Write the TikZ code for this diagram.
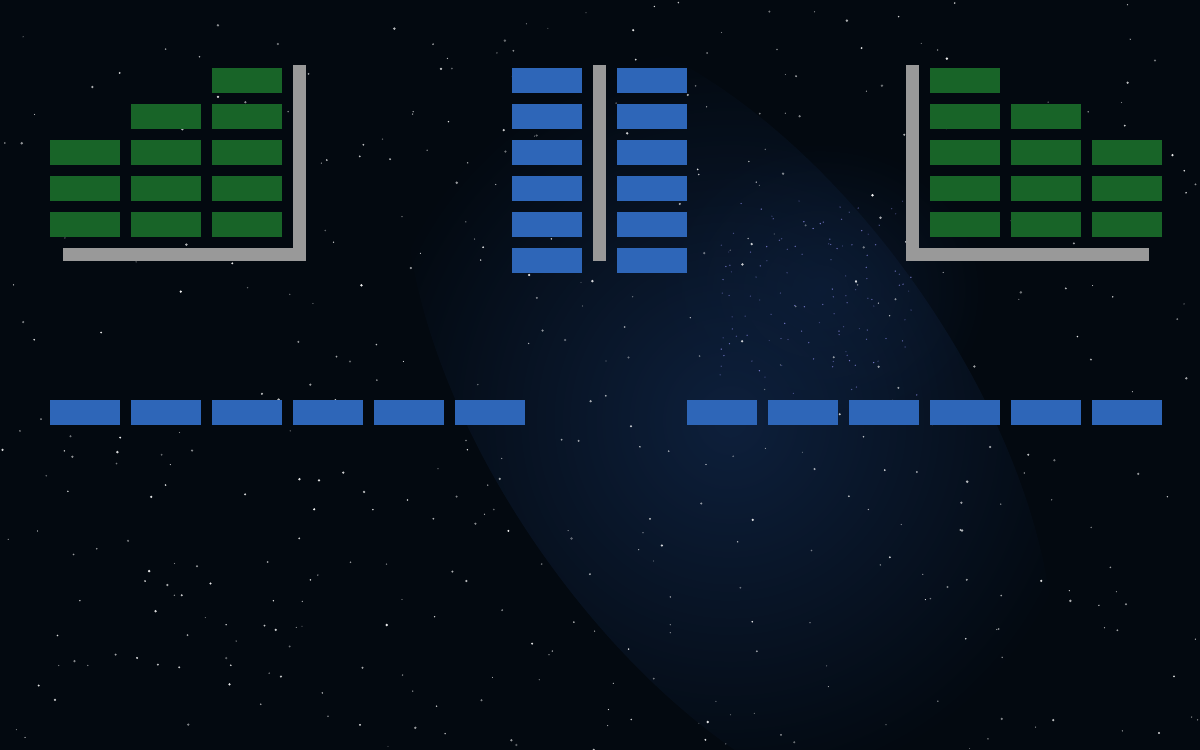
\documentclass[tikz,border=0pt]{standalone}
\usetikzlibrary{fadings}
\definecolor{bgdark}{RGB}{3,9,16}
\definecolor{glow}{RGB}{14,32,60}
\definecolor{boxgreen}{RGB}{24,100,40}
\definecolor{boxblue}{RGB}{46,102,184}
\definecolor{bargray}{RGB}{153,153,153}
\tikzfading[name=softglow, inner color=transparent!0, outer color=transparent!100]
\tikzset{
  cell/.style={rectangle, inner sep=0pt, outer sep=0pt, minimum width=70pt, minimum height=25pt, anchor=north west, draw=none},
  gcell/.style={cell, fill=boxgreen},
  bcell/.style={cell, fill=boxblue},
  bar/.style={fill=bargray, draw=none}
}
\begin{document}
\begin{tikzpicture}[x=1pt, y=-1pt]
\useasboundingbox (0,0) rectangle (1200,750);
% background
\fill[bgdark] (0,0) rectangle (1200,750);
\fill[glow, path fading=softglow, rotate around={-55:(730,420)}] (730,420) ellipse (460 and 230);
\fill[glow, opacity=0.6, path fading=softglow] (820,290) ellipse (170 and 150);
% stars
\pgfmathsetseed{7}
\foreach \i in {1,...,450}{
  \pgfmathsetmacro\sx{rnd*1200}
  \pgfmathsetmacro\sy{rnd*750}
  \pgfmathsetmacro\sr{0.5+rnd*0.9}
  \pgfmathsetmacro\so{0.35+rnd*0.6}
  \fill[white, opacity=\so] (\sx,\sy) circle (\sr);
}
\pgfmathsetseed{11}
\foreach \i in {1,...,120}{
  \pgfmathsetmacro\sx{720+rnd*200}
  \pgfmathsetmacro\sy{200+rnd*200}
  \pgfmathsetmacro\so{0.3+rnd*0.5}
  \fill[blue!40!white, opacity=\so] (\sx,\sy) circle (0.7);
}
% left panel
\foreach \c/\r in {0/2,0/3,0/4,1/1,1/2,1/3,1/4,2/0,2/1,2/2,2/3,2/4}{
  \node[gcell] (L\c\r) at ({50+81*\c},{68+36*\r}) {};
}
\fill[bar] (293,65) rectangle (306,261);
\fill[bar] (63,248) rectangle (306,261);
% middle panel
\foreach \r in {0,...,5}{
  \node[bcell] (MA\r) at (512,{68+36*\r}) {};
  \node[bcell] (MB\r) at (617,{68+36*\r}) {};
}
\fill[bar] (593,65) rectangle (606,261);
% right panel
\foreach \c/\r in {0/0,0/1,0/2,0/3,0/4,1/1,1/2,1/3,1/4,2/2,2/3,2/4}{
  \node[gcell] (R\c\r) at ({930+81*\c},{68+36*\r}) {};
}
\fill[bar] (906,65) rectangle (919,261);
\fill[bar] (906,248) rectangle (1149,261);
% bottom rows
\foreach \c in {0,...,5}{
  \node[bcell] (BL\c) at ({50+81*\c},400) {};
  \node[bcell] (BR\c) at ({687+81*\c},400) {};
}
\end{tikzpicture}
\end{document}
